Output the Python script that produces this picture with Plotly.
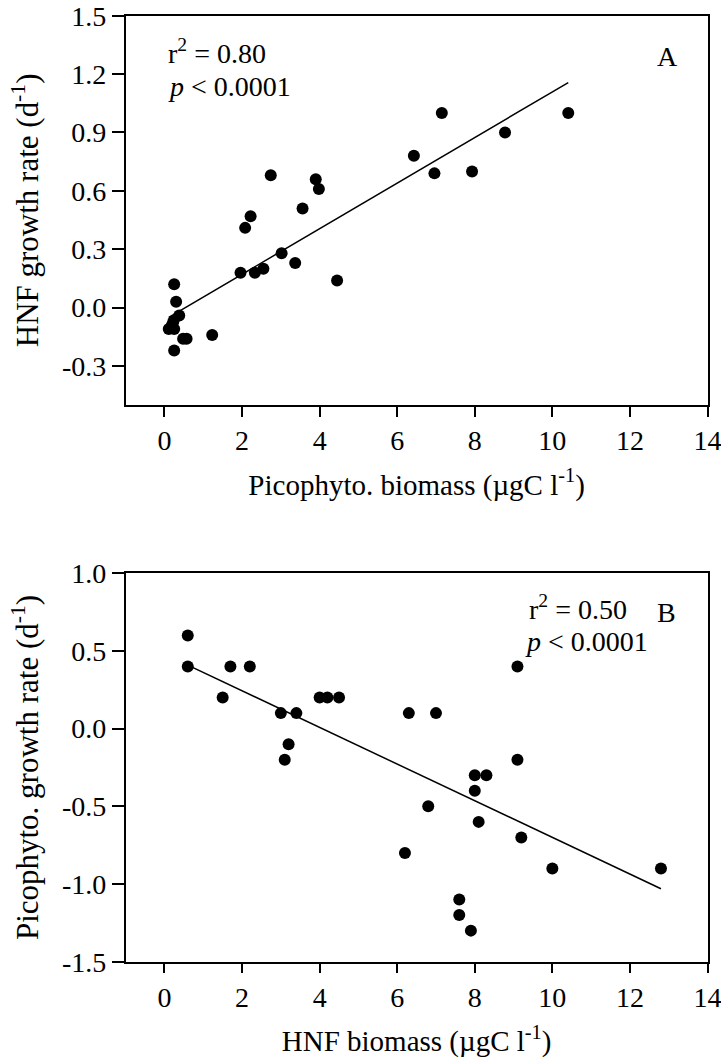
import plotly.graph_objects as go

# ---- Panel A data: HNF growth rate vs picophytoplankton biomass ----
pico_biomass = [6.43, 2.74, 3.90, 3.98, 3.56, 2.22, 2.08, 3.02, 3.37, 1.96, 2.33, 2.55, 4.45,
                0.25, 0.30, 0.38, 0.23, 0.19, 0.11, 0.25, 0.48, 0.57, 1.23, 0.25,
                7.15, 10.41, 8.78, 6.96, 7.93]
hnf_growth = [0.78, 0.68, 0.66, 0.61, 0.51, 0.47, 0.41, 0.28, 0.23, 0.18, 0.18, 0.20, 0.14,
              0.12, 0.03, -0.04, -0.07, -0.09, -0.11, -0.11, -0.16, -0.16, -0.14, -0.22,
              1.00, 1.00, 0.90, 0.69, 0.70]
fitA_intercept, fitA_slope = -0.0626, 0.1171

# ---- Panel B data: picophyto growth rate vs HNF biomass ----
hnf_biomass = [0.6, 0.6, 1.7, 2.2, 1.5, 4.0, 4.2, 4.5, 3.0, 3.4, 3.2, 3.1, 6.3, 6.2,
               9.1, 7.0, 9.1, 8.0, 8.3, 8.0, 6.8, 8.1, 9.2, 10.0, 12.8, 7.6, 7.6, 7.9]
pico_growth = [0.6, 0.4, 0.4, 0.4, 0.2, 0.2, 0.2, 0.2, 0.1, 0.1, -0.1, -0.2, 0.1, -0.8,
               0.4, 0.1, -0.2, -0.3, -0.3, -0.4, -0.5, -0.6, -0.7, -0.9, -0.9, -1.1, -1.2, -1.3]
fitB_intercept, fitB_slope = 0.48, -0.118

x_ticks = [0, 2, 4, 6, 8, 10, 12, 14]
yA_ticks = [-0.3, 0.0, 0.3, 0.6, 0.9, 1.2, 1.5]
yA_labels = ["-0.3", "0.0", "0.3", "0.6", "0.9", "1.2", "1.5"]
yB_ticks = [-1.5, -1.0, -0.5, 0.0, 0.5, 1.0]
yB_labels = ["-1.5", "-1.0", "-0.5", "0.0", "0.5", "1.0"]

FONT = "Liberation Serif"
W, H = 721, 1063

fig = go.Figure()

marker = dict(color="black", size=12, line=dict(width=0))
fig.add_trace(go.Scatter(x=pico_biomass, y=hnf_growth, mode="markers", marker=marker,
                         xaxis="x", yaxis="y", showlegend=False))
fa_x = [min(pico_biomass), max(pico_biomass)]
fig.add_trace(go.Scatter(x=fa_x, y=[fitA_intercept + fitA_slope * v for v in fa_x], mode="lines",
                         line=dict(color="black", width=1.5), xaxis="x", yaxis="y", showlegend=False))

fig.add_trace(go.Scatter(x=hnf_biomass, y=pico_growth, mode="markers", marker=marker,
                         xaxis="x2", yaxis="y2", showlegend=False))
fb_x = [min(hnf_biomass), max(hnf_biomass)]
fig.add_trace(go.Scatter(x=fb_x, y=[fitB_intercept + fitB_slope * v for v in fb_x], mode="lines",
                         line=dict(color="black", width=1.5), xaxis="x2", yaxis="y2", showlegend=False))

left, right = 125.7, 707.5
a_top, a_bot = 15.7, 405.0
b_top, b_bot = 573.3, 961.7
xdom = [left / W, right / W]

common_x = dict(range=[-1, 14], tickvals=x_ticks, ticks="outside", ticklen=10, tickwidth=1.5,
                tickcolor="black", showline=True, linecolor="black", linewidth=1.5, mirror=True,
                showgrid=False, zeroline=False, automargin=False, ticklabeloverflow="allow",
                tickfont=dict(family=FONT, size=28, color="black"), domain=xdom)
common_y = dict(ticks="outside", ticklen=12, tickwidth=1.5, tickcolor="black", showline=True,
                linecolor="black", linewidth=1.5, mirror=True, showgrid=False, zeroline=False,
                automargin=False, ticklabeloverflow="allow",
                tickfont=dict(family=FONT, size=28, color="black"))
xtitle_font = dict(family=FONT, size=29, color="black")
ytitle_font = dict(family=FONT, size=31, color="black")

fig.update_layout(
    template="none",
    width=W, height=H, margin=dict(l=0, r=0, t=0, b=0, autoexpand=False),
    paper_bgcolor="white", plot_bgcolor="white",
    font=dict(family=FONT, size=28, color="black"),
    xaxis=dict(common_x, anchor="y",
               title=dict(text="Picophyto. biomass (\u00b5gC l<sup>-1</sup>)", font=xtitle_font, standoff=19)),
    yaxis=dict(common_y, anchor="x", range=[-0.5, 1.5], tickvals=yA_ticks, ticktext=yA_labels,
               domain=[1 - a_bot / H, 1 - a_top / H],
               title=dict(text="HNF growth rate (d<sup>-1</sup>)", font=ytitle_font, standoff=14)),
    xaxis2=dict(common_x, anchor="y2",
                title=dict(text="HNF biomass (\u00b5gC l<sup>-1</sup>)", font=xtitle_font, standoff=19)),
    yaxis2=dict(common_y, anchor="x2", range=[-1.5, 1.0], tickvals=yB_ticks, ticktext=yB_labels,
                domain=[1 - b_bot / H, 1 - b_top / H],
                title=dict(text="Picophyto. growth rate (d<sup>-1</sup>)", font=ytitle_font, standoff=14)),
)

ann_font = dict(family=FONT, size=28, color="black")
italic_p = "<i>p</i> < 0.0001"
annotations = [
    dict(x=0.05, y=1.317, xref="x", yref="y", text="r<sup>2</sup> = 0.80", showarrow=False,
         xanchor="left", yanchor="middle", font=ann_font),
    dict(x=0.05, y=1.137, xref="x", yref="y", text=italic_p, showarrow=False,
         xanchor="left", yanchor="middle", font=ann_font),
    dict(x=12.98, y=1.291, xref="x", yref="y", text="A", showarrow=False,
         xanchor="center", yanchor="middle", font=ann_font),
    dict(x=9.34, y=0.777, xref="x2", yref="y2", text="r<sup>2</sup> = 0.50", showarrow=False,
         xanchor="left", yanchor="middle", font=ann_font),
    dict(x=9.24, y=0.558, xref="x2", yref="y2", text=italic_p, showarrow=False,
         xanchor="left", yanchor="middle", font=ann_font),
    dict(x=12.95, y=0.745, xref="x2", yref="y2", text="B", showarrow=False,
         xanchor="center", yanchor="middle", font=ann_font),
]
fig.update_layout(annotations=annotations)

fig.write_html("out.html")
